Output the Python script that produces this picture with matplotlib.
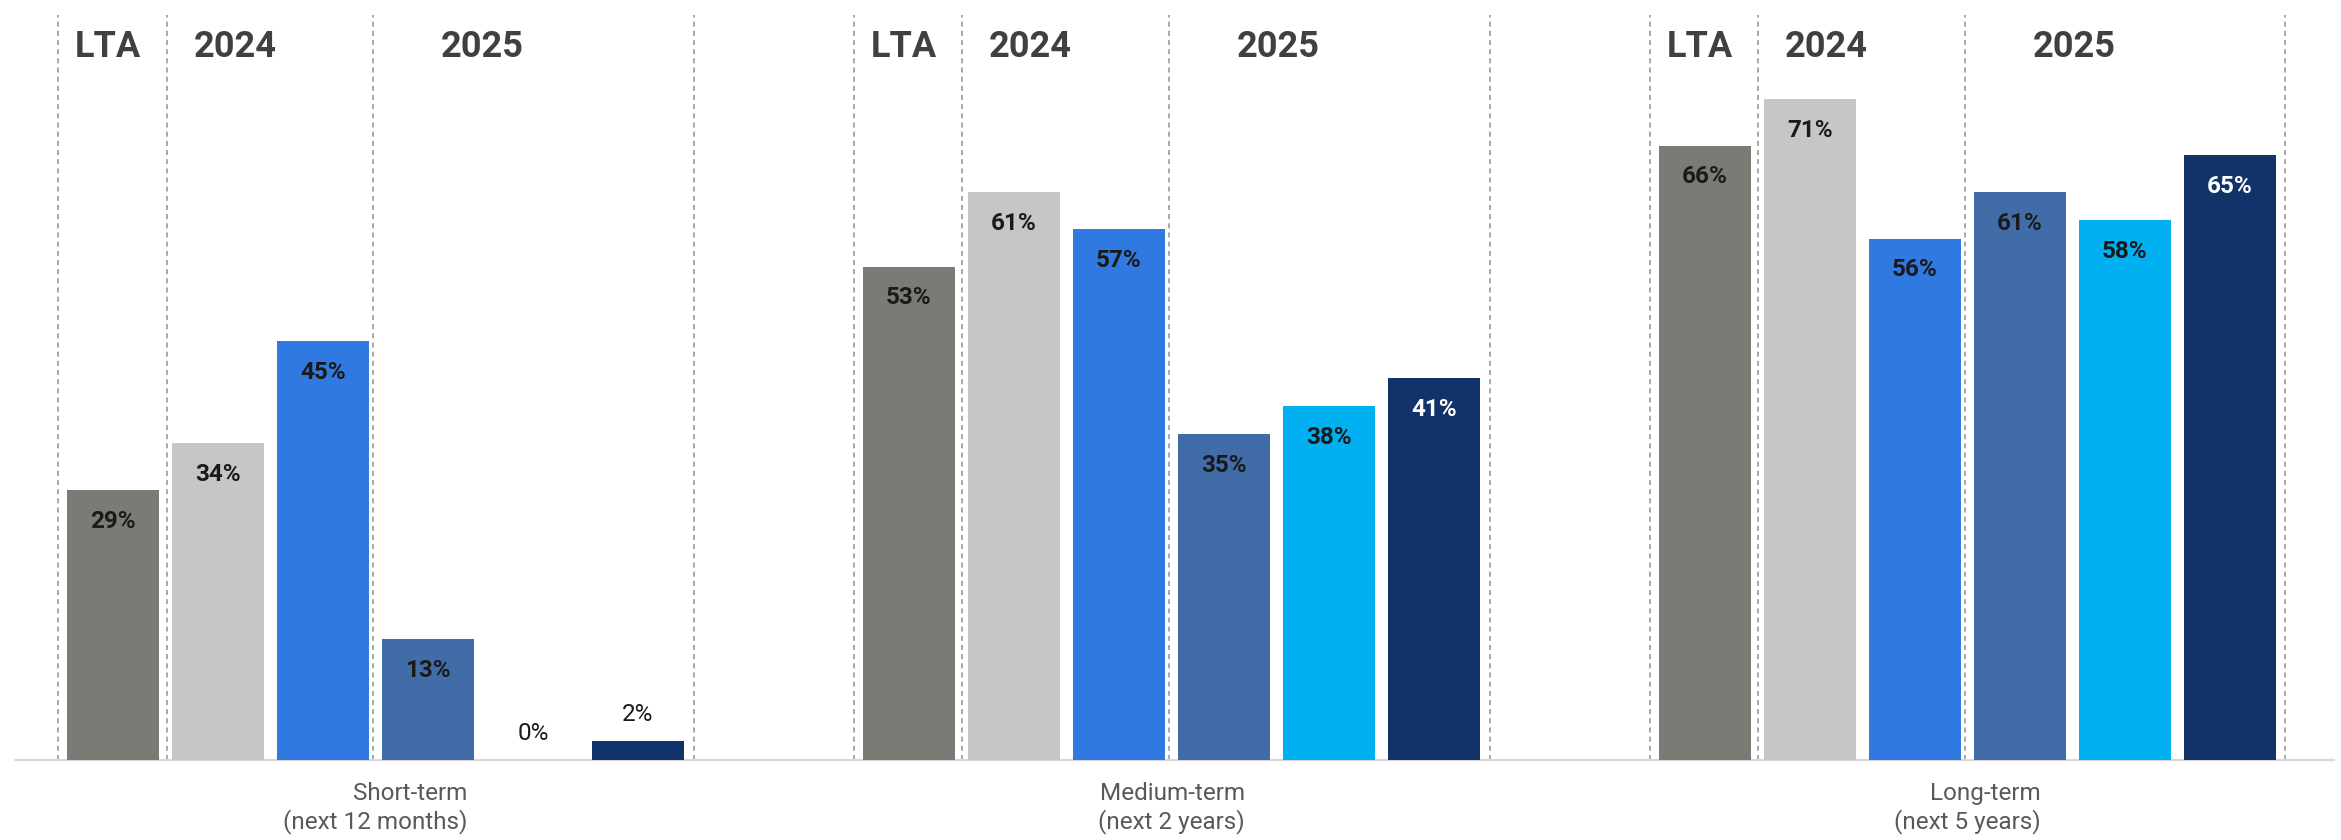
import numpy as np
import matplotlib
matplotlib.use('Agg')
import matplotlib.pyplot as plt

plt.rcParams['font.family'] = ['Roboto', 'DejaVu Sans']

# ── data ────────────────────────────────────────────────────────────────
groups = ['Short-term\n(next 12 months)', 'Medium-term\n(next 2 years)', 'Long-term\n(next 5 years)']
series_names = ['LTA', '2024 (1)', '2024 (2)', '2025 (1)', '2025 (2)', '2025 (3)']
lta     = [29, 53, 66]
y2024_1 = [34, 61, 71]
y2024_2 = [45, 57, 56]
y2025_1 = [13, 35, 61]
y2025_2 = [0, 38, 58]
y2025_3 = [2, 41, 65]
series = [lta, y2024_1, y2024_2, y2025_1, y2025_2, y2025_3]
period_labels = ['LTA', '2024', '2025']

colors = ['#7b7b76', '#c6c6c6', '#3079e0', '#426ca8', '#00b0f0', '#11336a']
label_colors = ['#1a1a1a'] * 5 + ['white']

# ── layout ──────────────────────────────────────────────────────────────
W, H = 2341, 840
PX_SLOT = 105.0      # px per bar slot
X0_PX = 113.0        # px centre of first bar
BASE_PX = 80.0       # baseline, px from bottom
PX_PCT = 9.31        # px per percentage point
GROUP_STEP = 7.58    # slots between groups
BAR_W = 0.876

fig = plt.figure(figsize=(W / 100, H / 100), dpi=100)
ax = fig.add_axes([0, 0, 1, 1])
ax.set_xlim(-X0_PX / PX_SLOT, (W - X0_PX) / PX_SLOT)
ax.set_ylim(-BASE_PX / PX_PCT, (H - BASE_PX) / PX_PCT)
ax.axis('off')

# baseline
ax.plot([-0.94, 21.16], [0, 0], color='#d9d9d9', lw=1.6, zorder=1, solid_capstyle='butt')

for g, gname in enumerate(groups):
    off = g * GROUP_STEP
    # dashed separators
    for xs in [-0.52, 0.51, 2.48, 5.53]:
        ax.plot([off + xs, off + xs], [0, 80], color='#9a9a9a', lw=1.2,
                dashes=(3, 2.5), zorder=0)
    # period headers
    for xh, txt in zip([-0.05, 1.16, 3.52], period_labels):
        ax.text(off + xh, 76.6, txt, ha='center', va='center', fontsize=26,
                fontweight='bold', color='#404040')
    # bars
    for i, vals in enumerate(series):
        v = vals[g]
        x = off + i
        ax.bar(x, v, width=BAR_W, color=colors[i], zorder=2)
        if v >= 5:
            ax.annotate(f'{v}%', (x, v), xytext=(0, -22.5), textcoords='offset points',
                        ha='center', va='center', fontsize=17.5, fontweight='bold',
                        color=label_colors[i], zorder=3)
        else:
            ax.annotate(f'{v}%', (x, v), xytext=(0, 19), textcoords='offset points',
                        ha='center', va='center', fontsize=17.5, color='#1a1a1a', zorder=3)
    # category label
    ax.text(off + 2.5, -2.4, gname, ha='center', va='top', fontsize=17.5,
            color='#595959', multialignment='right', linespacing=1.2)

plt.savefig('out.png', dpi=100, facecolor='white')
plt.close()
